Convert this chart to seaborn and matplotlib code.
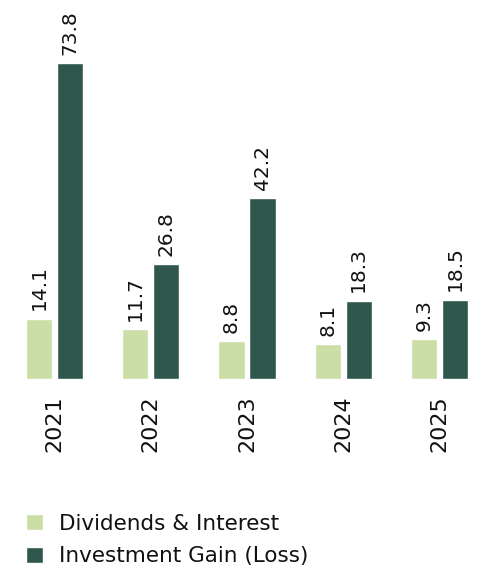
import numpy as np
import pandas as pd
import seaborn as sns
import matplotlib.pyplot as plt
from matplotlib.patches import Patch

# chart data
years = ['2021', '2022', '2023', '2024', '2025']
dividends = [14.1, 11.7, 8.8, 8.1, 9.3]
invest_gain = [73.8, 26.8, 42.2, 18.3, 18.5]
series = ['Dividends & Interest', 'Investment Gain (Loss)']
colors = ['#CBDEA5', '#2F574E']

df = pd.DataFrame({
    'year': years * 2,
    'value': dividends + invest_gain,
    'series': [series[0]] * len(years) + [series[1]] * len(years),
})

sns.set_style('white')
plt.rcParams['font.family'] = ['DejaVu Sans']

fig = plt.figure(figsize=(4.99, 5.79), dpi=100)
ax = fig.add_axes([6.5 / 499, 1 - 379 / 579, 481 / 499, 379 / 579])

sns.barplot(data=df, x='year', y='value', hue='series', palette=colors,
            width=0.646, gap=0.16, ax=ax, legend=False, saturation=1)

for c in ax.containers:
    ax.bar_label(c, fmt='%.1f', rotation=90, padding=6, fontsize=14.5, color='#111111')

ax.set_ylim(0, 88.5)
ax.set_xlim(-0.5, 4.5)
ax.set_xlabel('')
ax.set_ylabel('')
ax.set_yticks([])
ax.tick_params(axis='x', length=0, pad=12, labelsize=16, labelrotation=90, labelcolor='#111111')
for lbl in ax.get_xticklabels():
    lbl.set_va('top')
sns.despine(ax=ax, left=True, bottom=True)

handles = [Patch(facecolor=colors[0]), Patch(facecolor=colors[1])]
fig.legend(handles, series, loc='upper left', bbox_to_anchor=(0.052, 0.113),
           frameon=False, fontsize=15.5, handlelength=0.8, handleheight=0.8,
           handletextpad=0.75, labelspacing=0.6, borderaxespad=0, borderpad=0,
           labelcolor='#111111')

fig.savefig('out.png', dpi=100)
